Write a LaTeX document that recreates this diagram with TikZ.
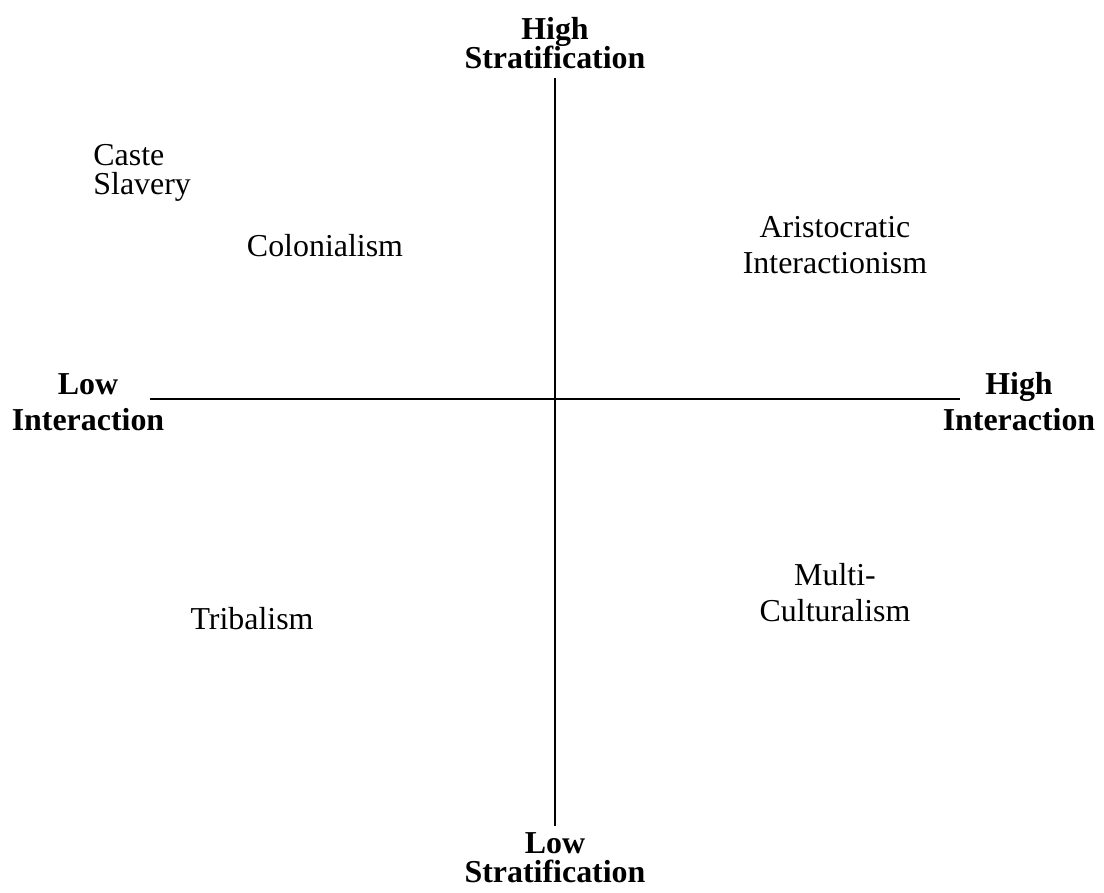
\documentclass[tikz,border=0pt]{standalone}
\usepackage{fontspec}
\setmainfont{Liberation Serif}
\newcommand\tightlines{\setlength{\lineskiplimit}{-6pt}}

\begin{document}
\begin{tikzpicture}[x=0.376pt,y=-0.376pt,
  quad/.style={align=center,font=\fontsize{12}{13.5}\selectfont},
  tight/.style={font=\fontsize{12}{10.9}\selectfont\tightlines},
  axis/.style={align=center,font=\fontsize{12}{10.9}\selectfont\bfseries\tightlines},
  axisw/.style={align=center,font=\fontsize{12}{13.5}\selectfont\bfseries}]
%\draw[step=50,gray,very thin] (0,0) grid (1104,892); %background grid
\useasboundingbox (0,0) rectangle (1104,892);

% axes
\coordinate (stratTop) at (555,78);
\coordinate (stratBot) at (555,826);
\coordinate (interLeft) at (150,399);
\coordinate (interRight) at (960,399);
\draw[line width=0.75pt] (stratTop)--(stratBot);
\draw[line width=0.75pt] (interLeft)--(interRight);

\node[axis] (highStrat) at (555,43) {High\\Stratification};
\node[axis] (lowStrat) at (555,858) {Low\\Stratification};
\node[axisw] (lowInter) at (88,402) {Low\\Interaction};
\node[axisw] (highInter) at (1019,402) {High\\Interaction};

% the four quadrants
\node[tight,align=left,anchor=west] (casteSlavery) at (84,173) {Caste\\Slavery};
\node[quad] (colonial) at (325,246) {Colonialism};
\node[quad] (aristo) at (835,245) {Aristocratic\\Interactionism};
\node[quad] (tribal) at (252,619) {Tribalism};
\node[quad] (multi) at (835,593) {Multi-\\Culturalism};

\end{tikzpicture}
\end{document}
